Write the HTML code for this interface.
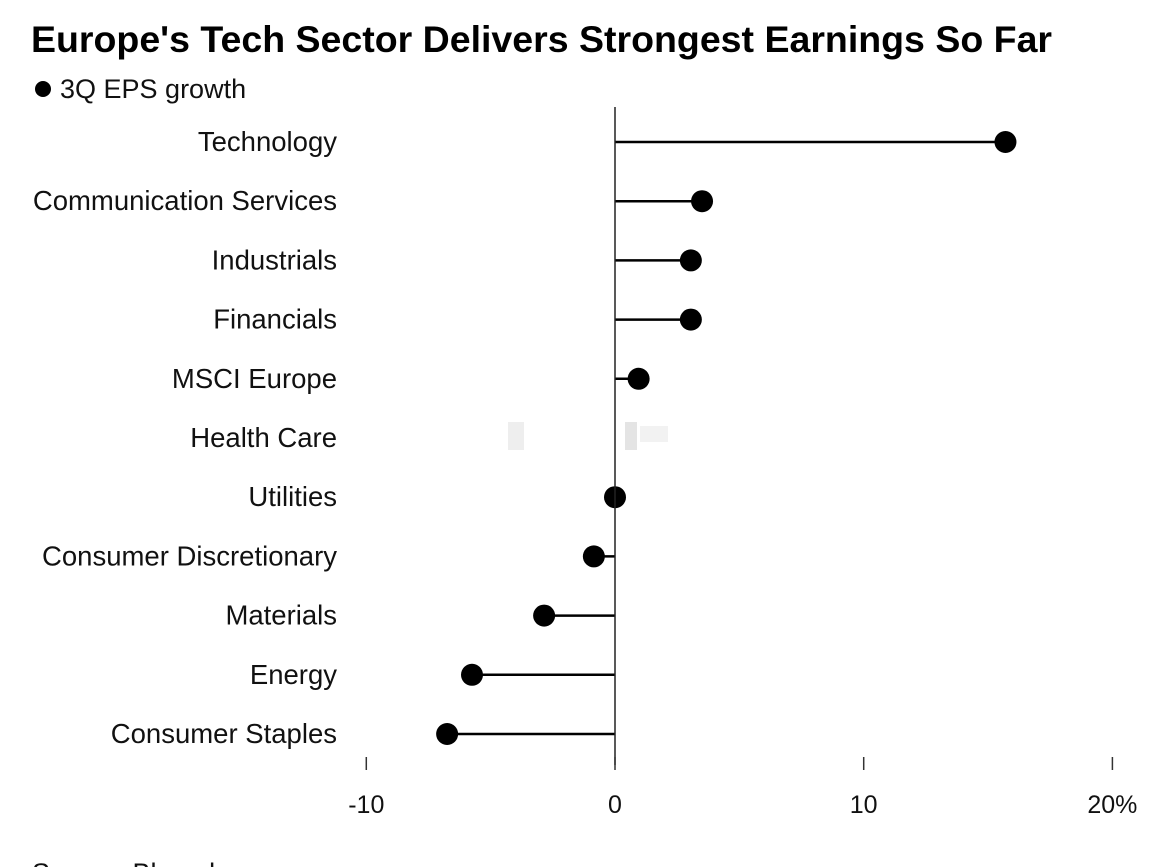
<!DOCTYPE html>
<html><head><meta charset="utf-8"><style>
body{margin:0;background:#fff;width:1170px;height:867px;overflow:hidden;font-family:"Liberation Sans",sans-serif}
</style></head><body>
<svg width="1170" height="867" style="position:absolute;left:0;top:0">
<text x="31" y="52" font-size="37.5" font-weight="bold" fill="#000">Europe's Tech Sector Delivers Strongest Earnings So Far</text>
<circle cx="43" cy="89" r="8" fill="#000"/>
<text x="60" y="98" font-size="27" fill="#111">3Q EPS growth</text>
<g id="plot"></g>
<text x="32" y="882" font-size="27" fill="#111">Source: Bloomberg</text>
</svg>
<script>
const categories=["Technology","Communication Services","Industrials","Financials","MSCI Europe","Health Care","Utilities","Consumer Discretionary","Materials","Energy","Consumer Staples"];
const values=[15.7,3.5,3.05,3.05,0.95,0.5,0,-0.85,-2.85,-5.75,-6.75];
const ticks=[-10,0,10,20];
const tickLabels=["-10","0","10","20%"];
const NS="http://www.w3.org/2000/svg";
const g=document.getElementById('plot');
const x=v=>615+v*24.87;
const y=i=>142+i*59.2;
function mk(t,a){const e=document.createElementNS(NS,t);for(const k in a)e.setAttribute(k,a[k]);g.appendChild(e);return e;}
categories.forEach((c,i)=>{
  let t=mk('text',{x:337,y:y(i)+9,'text-anchor':'end','font-size':27.5,fill:'#111'});t.textContent=c;
  
  
  let l=mk('line',{x1:x(0),x2:x(values[i]),y1:y(i),y2:y(i),stroke:'#000','stroke-width':2.5});
  
  
  let d=mk('circle',{cx:x(values[i]),cy:y(i),r:11,fill:'#000'});
  
  
});
let wm=mk('rect',{x:500,y:415,width:175,height:42,fill:'#fff'});


mk('rect',{x:508,y:422,width:16,height:28,fill:'#eee'});
mk('rect',{x:625,y:422,width:12,height:28,fill:'#e4e4e4'});
mk('rect',{x:640,y:426,width:28,height:16,fill:'#f2f2f2'});
let zl=mk('line',{x1:x(0),x2:x(0),y1:107,y2:765,stroke:'#222','stroke-width':1.5});


ticks.forEach((v,i)=>{
  let tk=mk('line',{x1:x(v),x2:x(v),y1:757,y2:770,stroke:'#333','stroke-width':1.5});
  
  
  let t=mk('text',{x:x(v),y:813,'text-anchor':'middle','font-size':25,fill:'#111'});t.textContent=tickLabels[i];
  
  
});
</script>
</body></html>
